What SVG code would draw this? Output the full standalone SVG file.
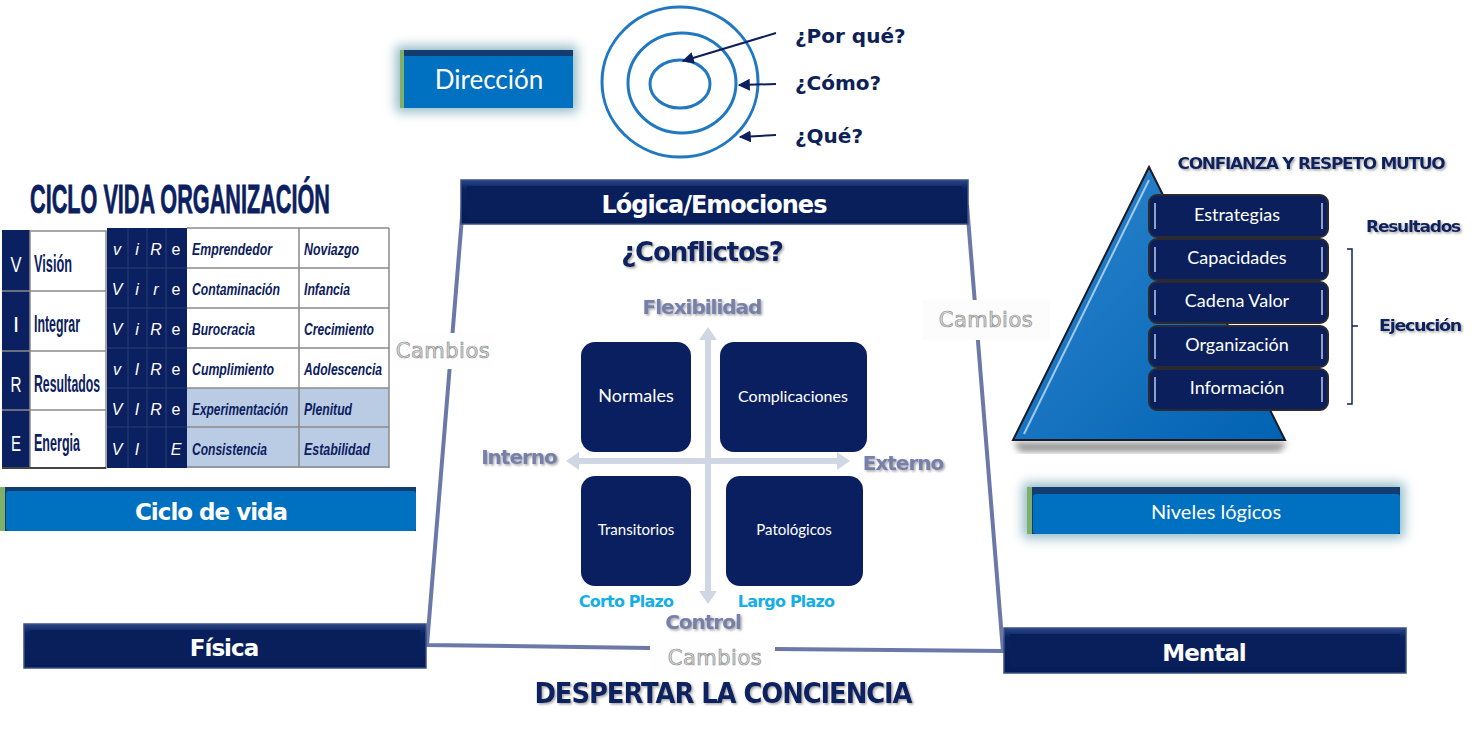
<svg xmlns="http://www.w3.org/2000/svg" width="1475" height="732" viewBox="0 0 1475 732">
<defs>
<filter id="glow" x="-20%" y="-40%" width="140%" height="180%"><feGaussianBlur stdDeviation="6"/></filter>
<filter id="shadow" x="-10%" y="-30%" width="120%" height="160%"><feDropShadow dx="1.5" dy="1.5" stdDeviation="1" flood-color="#808080" flood-opacity="0.7"/></filter>
<filter id="pshadow" x="-20%" y="-20%" width="140%" height="140%"><feGaussianBlur stdDeviation="3"/></filter>
<linearGradient id="pyr" x1="0" y1="0" x2="1" y2="1"><stop offset="0" stop-color="#2f86d0"/><stop offset="1" stop-color="#0062b2"/></linearGradient>
<linearGradient id="navybar" x1="0" y1="0" x2="0" y2="1"><stop offset="0" stop-color="#2b4788"/><stop offset="0.2" stop-color="#0a2260"/><stop offset="1" stop-color="#061c57"/></linearGradient>
<marker id="arr" viewBox="0 0 10 10" refX="9" refY="5" markerWidth="6" markerHeight="6" orient="auto-start-reverse"><path d="M0,0 L10,5 L0,10 z" fill="#0d1f5c"/></marker>
<style>
.navy{fill:#0b2060}
.bar{fill:url(#navybar);stroke:#3a4f82;stroke-width:1.5}
.barin{fill:#081f5c}
.bartxt{font-family:"DejaVu Sans",sans-serif;font-weight:bold;fill:#ffffff;text-anchor:middle;letter-spacing:-1px}
.blue{fill:#0070c0}
.blueTop{fill:#133d70}
.green{fill:#7fb06a}
.ring{fill:none;stroke:#1f78c1;stroke-width:3}
.q{font-family:"DejaVu Sans",sans-serif;font-weight:bold;font-size:20px;fill:#0d2157}
.box{fill:#0a1f5f}
.boxtxt{font-family:Lato,sans-serif;fill:#ffffff;text-anchor:middle}
.axis{stroke:#cfd6e4;stroke-width:6;fill:none}
.axhead{fill:#cfd6e4}
.axlbl{font-family:"DejaVu Sans",sans-serif;font-weight:bold;font-size:20px;fill:#7680aa;text-anchor:middle;letter-spacing:-1px}
.plazo{font-family:"DejaVu Sans",sans-serif;font-weight:bold;font-size:16px;fill:#16aee8;text-anchor:middle;letter-spacing:-0.8px}
.cambios{font-family:"DejaVu Sans",sans-serif;font-size:21px;fill:#dcdcdc;stroke:#8c8c8c;stroke-width:0.7;text-anchor:middle;letter-spacing:0.5px}
.trap{stroke:#6c78a8;stroke-width:4;fill:none}
.cell{stroke:#8a8a8a;stroke-width:1.5}
.let{font-family:"Liberation Sans",sans-serif;font-style:italic;font-size:16px;fill:#ffffff;text-anchor:middle}
.name{font-family:"Liberation Sans",sans-serif;font-style:italic;font-weight:bold;font-size:17px;fill:#0b2060}
.lbl{font-family:"Liberation Sans",sans-serif;font-weight:bold;font-size:23px;fill:#0b2060}
.lvl{fill:#0a1f5c;stroke:#2a2a30;stroke-width:2}
.lvltxt{font-family:Lato,sans-serif;font-size:18px;fill:#ffffff;text-anchor:middle}
.lvlmark{stroke:#8fa0c8;stroke-width:2}
.heavy{font-family:"DejaVu Sans",sans-serif;font-weight:bold;fill:#0b2060;letter-spacing:-1.2px}
</style>
</defs>
<rect width="1475" height="732" fill="#ffffff"/>

<!-- Direccion -->
<g id="direccion">
<rect x="396" y="46" width="181" height="66" fill="#8fb8c4" filter="url(#glow)"/>
<rect x="400" y="50" width="173" height="58" class="blueTop"/>
<rect x="404" y="56" width="169" height="52" class="blue"/>
<rect x="400" y="50" width="4" height="58" class="green"/>
<text x="489" y="89" font-family="Lato,sans-serif" font-size="26" fill="#ffffff" text-anchor="middle">Dirección</text>
</g>

<!-- Circles -->
<g id="circulos">
<ellipse cx="680" cy="82" rx="78" ry="75" class="ring"/>
<ellipse cx="682" cy="83" rx="54" ry="50" class="ring"/>
<ellipse cx="680" cy="84" rx="30" ry="24" class="ring"/>
<text x="795" y="43" class="q">¿Por qué?</text>
<text x="795" y="90" class="q">¿Cómo?</text>
<text x="795" y="143" class="q">¿Qué?</text>
</g>

<!-- Connectors -->
<g id="connectors" stroke="#0d1f5c" stroke-width="2" fill="none">
<line x1="776" y1="33" x2="683" y2="61" marker-end="url(#arr)"/>
<line x1="776" y1="84" x2="739" y2="85" marker-end="url(#arr)"/>
<line x1="776" y1="135" x2="740" y2="137" marker-end="url(#arr)"/>
</g>

<!-- Trapezoid frame -->
<g id="marco">
<path class="trap" d="M463,205 L427,645 L650,648"/>
<path class="trap" d="M775,649 L1003,651 L967,205"/>
<rect x="392" y="333" width="102" height="36" fill="#fefefe"/>
<text x="443" y="358" class="cambios">Cambios</text>
<rect x="922" y="300" width="128" height="40" fill="#fcfcfc"/>
<text x="986" y="327" class="cambios">Cambios</text>
<rect x="650" y="640" width="125" height="36" fill="#fefefe"/>
<text x="715" y="665" class="cambios">Cambios</text>
</g>

<g id="logica">
<rect x="461" y="180" width="507" height="44" class="bar"/>
<rect x="467" y="186" width="495" height="34" class="barin"/>
<text x="714" y="213" class="bartxt" font-size="24">Lógica/Emociones</text>
</g>

<text x="702" y="261" class="heavy" font-size="26" text-anchor="middle" filter="url(#shadow)">¿Conflictos?</text>

<!-- Axes -->
<g id="ejes">
<line x1="708" y1="340" x2="708" y2="592" class="axis"/>
<line x1="578" y1="461" x2="838" y2="461" class="axis"/>
<polygon points="708,327 699,340 717,340" class="axhead"/>
<polygon points="708,604 699,591 717,591" class="axhead"/>
<polygon points="566,461 579,452 579,470" class="axhead"/>
<polygon points="850,461 837,452 837,470" class="axhead"/>
<text x="702" y="314" class="axlbl" filter="url(#shadow)">Flexibilidad</text>
<text x="519" y="464" class="axlbl" filter="url(#shadow)">Interno</text>
<text x="903" y="470" class="axlbl" filter="url(#shadow)">Externo</text>
<text x="703" y="629" class="axlbl" filter="url(#shadow)">Control</text>
<text x="626" y="607" class="plazo">Corto Plazo</text>
<text x="786" y="607" class="plazo">Largo Plazo</text>
</g>

<g id="normales"><rect x="581" y="342" width="110" height="110" rx="14" class="box"/><text x="636" y="402" class="boxtxt" font-size="18">Normales</text></g>
<g id="complicaciones"><rect x="720" y="342" width="147" height="110" rx="14" class="box"/><text x="793" y="402" class="boxtxt" font-size="16">Complicaciones</text></g>
<g id="transitorios"><rect x="581" y="476" width="110" height="110" rx="14" class="box"/><text x="636" y="535" class="boxtxt" font-size="15">Transitorios</text></g>
<g id="patologicos"><rect x="726" y="476" width="137" height="110" rx="14" class="box"/><text x="794" y="535" class="boxtxt" font-size="15">Patológicos</text></g>

<text x="723" y="703" class="heavy" font-size="28" text-anchor="middle" textLength="377" lengthAdjust="spacingAndGlyphs" filter="url(#shadow)">DESPERTAR LA CONCIENCIA</text>

<!-- Ciclo vida table -->
<g id="ciclo-tabla">
<text x="30" y="213" font-family="'Liberation Sans',sans-serif" font-weight="bold" font-size="41" fill="#0b2060" stroke="#0b2060" stroke-width="0.8" textLength="300" lengthAdjust="spacingAndGlyphs">CICLO VIDA ORGANIZACIÓN</text>
<!-- left table -->
<rect x="2" y="230" width="28" height="238" class="navy"/>
<rect x="30" y="231" width="76" height="237" fill="#ffffff" class="cell"/>
<line x1="2" y1="291" x2="106" y2="291" class="cell"/>
<line x1="2" y1="351" x2="106" y2="351" class="cell"/>
<line x1="2" y1="410" x2="106" y2="410" class="cell"/>
<line x1="2" y1="468" x2="106" y2="468" stroke="#444" stroke-width="2"/>
<g font-family="'Liberation Sans',sans-serif" font-size="22" fill="#ffffff" text-anchor="middle">
<text x="16" y="272" textLength="11" lengthAdjust="spacingAndGlyphs">V</text><text x="16" y="332">I</text><text x="16" y="392" textLength="11" lengthAdjust="spacingAndGlyphs">R</text><text x="16" y="451" textLength="10" lengthAdjust="spacingAndGlyphs">E</text>
</g>
<text x="34" y="272" class="lbl" textLength="38" lengthAdjust="spacingAndGlyphs">Visión</text>
<text x="34" y="332" class="lbl" textLength="46" lengthAdjust="spacingAndGlyphs">Integrar</text>
<text x="34" y="392" class="lbl" textLength="66" lengthAdjust="spacingAndGlyphs">Resultados</text>
<text x="34" y="451" class="lbl" textLength="46" lengthAdjust="spacingAndGlyphs">Energia</text>
<!-- right table -->
<rect x="107" y="228" width="80" height="240" class="navy"/>
<rect x="187" y="228" width="202" height="160" fill="#ffffff"/>
<rect x="187" y="388" width="202" height="80" fill="#b9cce4"/>
<g stroke="#2a3d70" stroke-width="1">
<line x1="128" y1="228" x2="128" y2="468"/><line x1="147" y1="228" x2="147" y2="468"/><line x1="166" y1="228" x2="166" y2="468"/>
<line x1="107" y1="268" x2="187" y2="268"/><line x1="107" y1="308" x2="187" y2="308"/><line x1="107" y1="348" x2="187" y2="348"/><line x1="107" y1="388" x2="187" y2="388"/><line x1="107" y1="427" x2="187" y2="427"/>
</g>
<g class="cell">
<line x1="187" y1="228" x2="389" y2="228"/>
<line x1="187" y1="268" x2="389" y2="268"/><line x1="187" y1="308" x2="389" y2="308"/><line x1="187" y1="348" x2="389" y2="348"/><line x1="187" y1="388" x2="389" y2="388"/><line x1="187" y1="427" x2="389" y2="427"/><line x1="187" y1="467" x2="389" y2="467"/>
<line x1="299" y1="228" x2="299" y2="468"/><line x1="389" y1="228" x2="389" y2="468"/>
</g>
<g class="let">
<text x="117" y="255">v</text><text x="137" y="255">i</text><text x="156" y="255">R</text><text x="176" y="255" style="font-style:normal">e</text>
<text x="117" y="295">V</text><text x="137" y="295">i</text><text x="156" y="295">r</text><text x="176" y="295" style="font-style:normal">e</text>
<text x="117" y="335">V</text><text x="137" y="335">i</text><text x="156" y="335">R</text><text x="176" y="335" style="font-style:normal">e</text>
<text x="117" y="375">v</text><text x="137" y="375">I</text><text x="156" y="375">R</text><text x="176" y="375" style="font-style:normal">e</text>
<text x="117" y="415">V</text><text x="137" y="415">I</text><text x="156" y="415">R</text><text x="176" y="415" style="font-style:normal">e</text>
<text x="117" y="455">V</text><text x="137" y="455">I</text><text x="176" y="455">E</text>
</g>
<g class="name">
<text x="192" y="255" textLength="80" lengthAdjust="spacingAndGlyphs">Emprendedor</text>
<text x="304" y="255" textLength="55" lengthAdjust="spacingAndGlyphs">Noviazgo</text>
<text x="192" y="295" textLength="88" lengthAdjust="spacingAndGlyphs">Contaminación</text>
<text x="304" y="295" textLength="46" lengthAdjust="spacingAndGlyphs">Infancia</text>
<text x="192" y="335" textLength="63" lengthAdjust="spacingAndGlyphs">Burocracia</text>
<text x="304" y="335" textLength="70" lengthAdjust="spacingAndGlyphs">Crecimiento</text>
<text x="192" y="375" textLength="82" lengthAdjust="spacingAndGlyphs">Cumplimiento</text>
<text x="304" y="375" textLength="78" lengthAdjust="spacingAndGlyphs">Adolescencia</text>
<text x="192" y="415" textLength="96" lengthAdjust="spacingAndGlyphs">Experimentación</text>
<text x="304" y="415" textLength="48" lengthAdjust="spacingAndGlyphs">Plenitud</text>
<text x="192" y="455" textLength="75" lengthAdjust="spacingAndGlyphs">Consistencia</text>
<text x="304" y="455" textLength="66" lengthAdjust="spacingAndGlyphs">Estabilidad</text>
</g>
</g>

<g id="ciclo-de-vida">
<rect x="0" y="487" width="416" height="44" class="blueTop"/>
<rect x="6" y="491" width="410" height="40" rx="3" class="blue"/>
<rect x="0" y="487" width="5" height="44" class="green"/>
<text x="211" y="520" class="bartxt" font-size="23">Ciclo de vida</text>
</g>

<g id="fisica">
<rect x="24" y="624" width="402" height="44" class="bar"/>
<rect x="30" y="630" width="390" height="32" class="barin"/>
<text x="224" y="656" class="bartxt" font-size="23">Física</text>
</g>

<g id="mental">
<rect x="1004" y="628" width="402" height="45" class="bar"/>
<rect x="1010" y="634" width="390" height="33" class="barin"/>
<text x="1204" y="661" class="bartxt" font-size="23">Mental</text>
</g>

<g id="niveles-logicos">
<rect x="1023" y="483" width="381" height="55" fill="#8fb8c4" filter="url(#glow)"/>
<rect x="1027" y="487" width="373" height="47" class="blueTop"/>
<rect x="1033" y="494" width="367" height="40" rx="3" class="blue"/>
<rect x="1027" y="487" width="5" height="47" class="green"/>
<text x="1216" y="519" font-family="Lato,sans-serif" font-size="20" fill="#ffffff" text-anchor="middle">Niveles lógicos</text>
</g>

<!-- Pyramid -->
<g id="piramide">
<polygon points="1013,442 1287,442 1280,452 1020,452" fill="#9a9a9a" filter="url(#pshadow)"/>
<polygon points="1149,167 1013,440 1285,440" fill="url(#pyr)" stroke="#1a1a28" stroke-width="2"/>
<line x1="1149" y1="180" x2="1024" y2="434" stroke="#ffffff" stroke-opacity="0.6" stroke-width="2"/>
<text x="1311" y="169" class="heavy" font-size="16" text-anchor="middle" textLength="267" lengthAdjust="spacingAndGlyphs" filter="url(#shadow)">CONFIANZA Y RESPETO MUTUO</text>
</g>
<g id="estrategias"><rect x="1149" y="195" width="179" height="42" rx="8" class="lvl"/><line x1="1155" y1="203" x2="1155" y2="229" class="lvlmark"/><line x1="1322" y1="203" x2="1322" y2="229" class="lvlmark"/><text x="1237" y="221" class="lvltxt">Estrategias</text></g>
<g id="capacidades"><rect x="1149" y="239" width="179" height="41" rx="8" class="lvl"/><line x1="1155" y1="247" x2="1155" y2="272" class="lvlmark"/><line x1="1322" y1="247" x2="1322" y2="272" class="lvlmark"/><text x="1237" y="264" class="lvltxt">Capacidades</text></g>
<g id="cadena-valor"><rect x="1149" y="282" width="179" height="41" rx="8" class="lvl"/><line x1="1155" y1="290" x2="1155" y2="315" class="lvlmark"/><line x1="1322" y1="290" x2="1322" y2="315" class="lvlmark"/><text x="1237" y="307" class="lvltxt">Cadena Valor</text></g>
<g id="organizacion"><rect x="1149" y="326" width="179" height="41" rx="8" class="lvl"/><line x1="1155" y1="334" x2="1155" y2="359" class="lvlmark"/><line x1="1322" y1="334" x2="1322" y2="359" class="lvlmark"/><text x="1237" y="351" class="lvltxt">Organización</text></g>
<g id="informacion"><rect x="1149" y="369" width="179" height="41" rx="8" class="lvl"/><line x1="1155" y1="377" x2="1155" y2="402" class="lvlmark"/><line x1="1322" y1="377" x2="1322" y2="402" class="lvlmark"/><text x="1237" y="394" class="lvltxt">Información</text></g>

<g id="etiquetas-derecha">
<text x="1413" y="232" class="heavy" font-size="16" text-anchor="middle" textLength="94" lengthAdjust="spacingAndGlyphs" filter="url(#shadow)">Resultados</text>
<path d="M1347,249 L1352,249 L1352,404 L1347,404 M1352,326 L1358,326" fill="none" stroke="#0b2060" stroke-width="1.5"/>
<text x="1420" y="331" class="heavy" font-size="16" text-anchor="middle" textLength="82" lengthAdjust="spacingAndGlyphs" filter="url(#shadow)">Ejecución</text>
</g>
</svg>
